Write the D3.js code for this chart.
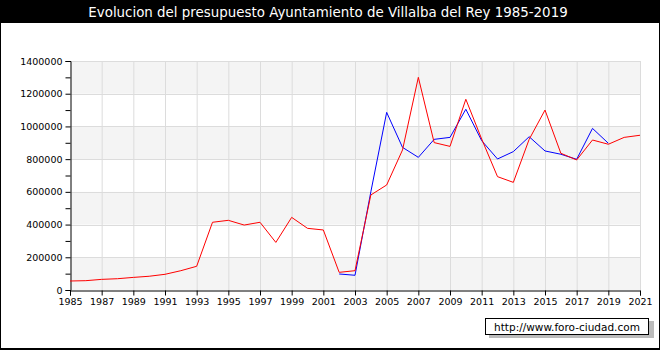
<!DOCTYPE html>
<html><head><meta charset="utf-8">
<script src="https://cdn.jsdelivr.net/npm/d3@7"></script>
<style>body{margin:0;background:#fff}svg{display:block}</style>
</head><body>
<svg id="c" width="660" height="350"></svg>
<script>
const title = "Evolucion del presupuesto Ayuntamiento de Villalba del Rey 1985-2019";
const yearsRed = d3.range(1985, 2022);
const valuesRed = [55000,57000,65000,69000,77000,84000,96000,118000,145000,414000,426000,397000,414000,291000,444000,377000,367000,108000,118000,581000,642000,856000,1300000,901000,878000,1166000,923000,693000,658000,921000,1100000,836000,795000,917000,891000,933000,946000];
const yearsBlue = d3.range(2002, 2020);
const valuesBlue = [98000,90000,600000,1086000,872000,811000,921000,933000,1105000,913000,801000,846000,937000,850000,830000,799000,988000,897000];
const xTicks = d3.range(1985, 2022, 2);
const yTicks = d3.range(0, 1400001, 200000);

const svg = d3.select("#c");
const W = 660, H = 350;
const x = d3.scaleLinear().domain([1985, 2021]).range([70, 640]);
const y = d3.scaleLinear().domain([0, 1400000]).range([290, 61]);

// background frame
svg.append("rect").attr("x",0).attr("y",0).attr("width",W).attr("height",H).attr("fill","#000");
svg.append("rect").attr("x",1).attr("y",23).attr("width",W-2).attr("height",H-25).attr("fill","#fff");
svg.append("text").attr("x",328).attr("y",17).attr("text-anchor","middle")
  .attr("fill","#fff").attr("font-family","DejaVu Sans").attr("font-size",13.4).text(title);

// bands
for (let i = 0; i < yTicks.length - 1; i++) {
  if (i % 2 === 0) {
    svg.append("rect").attr("x", x(1985)).attr("width", x(2021)-x(1985))
      .attr("y", y(yTicks[i+1])).attr("height", y(yTicks[i]) - y(yTicks[i+1]))
      .attr("fill", "#f4f4f4");
  }
}
// grid
svg.append("g").selectAll("line").data(xTicks.slice(1)).join("line")
  .attr("x1", d=>x(d)+0.5).attr("x2", d=>x(d)+0.5).attr("y1", y(1400000)).attr("y2", y(0))
  .attr("stroke","#dcdcdc").attr("stroke-width",1);
svg.append("g").selectAll("line").data(yTicks.slice(1)).join("line")
  .attr("x1", x(1985)).attr("x2", x(2021)).attr("y1", d=>Math.round(y(d))+0.5).attr("y2", d=>Math.round(y(d))+0.5)
  .attr("stroke","#dcdcdc").attr("stroke-width",1);

// axes
const yAxis = d3.axisLeft(y).tickValues(d3.range(0,1400001,100000)).tickSize(5)
  .tickFormat(d => d % 200000 === 0 ? d : "");
const gy = svg.append("g").attr("transform","translate(70.5,0)").call(yAxis);
const xAxis = d3.axisBottom(x).tickValues(xTicks).tickSize(5).tickFormat(d3.format("d"));
const gx = svg.append("g").attr("transform","translate(0,290.5)").call(xAxis);
[gy, gx].forEach(g => {
  g.select(".domain").attr("stroke","#000");
  g.selectAll(".tick line").attr("stroke","#000");
  g.selectAll("text").attr("font-family","DejaVu Sans").attr("font-size",9.5).attr("fill","#000");
});
gy.selectAll("text").attr("x",-8);
gx.selectAll("text").attr("y",8);

// lines
const line = d3.line().x(d=>x(d[0])).y(d=>y(d[1]));
svg.append("path").datum(yearsBlue.map((yr,i)=>[yr,valuesBlue[i]]))
  .attr("d", line).attr("fill","none").attr("stroke","#0000ff").attr("stroke-width",1);
svg.append("path").datum(yearsRed.map((yr,i)=>[yr,valuesRed[i]]))
  .attr("d", line).attr("fill","none").attr("stroke","#ff0000").attr("stroke-width",1);

// watermark
svg.append("rect").attr("x",489).attr("y",321).attr("width",165).attr("height",17).attr("fill","#bbb");
svg.append("rect").attr("x",485.5).attr("y",318.5).attr("width",163).attr("height",16).attr("fill","#fff").attr("stroke","#000");
svg.append("text").attr("x",567).attr("y",331).attr("text-anchor","middle")
  .attr("font-family","DejaVu Sans").attr("font-size",10.5).attr("fill","#000").text("http://www.foro-ciudad.com");
</script>
</body></html>
